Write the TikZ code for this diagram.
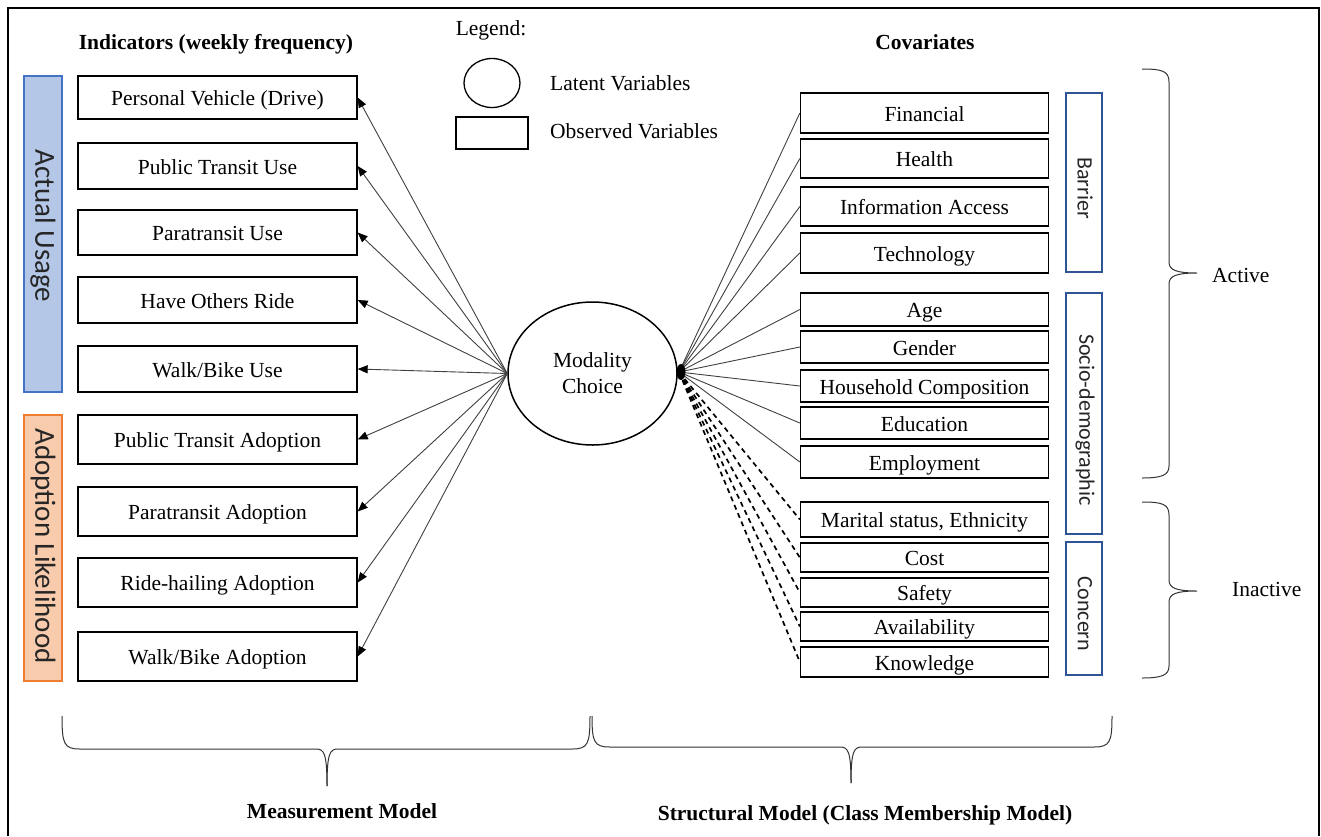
\documentclass[tikz,border=0pt]{standalone}
\usepackage{fontspec}
\setmainfont{Liberation Serif}
\newfontfamily\calfont{Carlito}
\usetikzlibrary{shapes.geometric,arrows.meta}
\definecolor{usefill}{HTML}{B4C7E7}
\definecolor{usedraw}{HTML}{4472C4}
\definecolor{adofill}{HTML}{F8CBAD}
\definecolor{adodraw}{HTML}{ED7D31}
\definecolor{catdraw}{HTML}{2F5597}
\definecolor{conn}{HTML}{404040}
\tikzset{
  txt/.style={font=\fontsize{21.5}{24}\selectfont, inner sep=0pt},
  hdr/.style={font=\fontsize{21.5}{24}\selectfont\bfseries, inner sep=0pt, text height=15pt, text depth=4pt},
  obs/.style={draw=black, line width=1.3pt, fill=white, minimum width=279pt, inner sep=0pt, text height=16pt, text depth=0pt, font=\fontsize{21.5}{24}\selectfont},
  cov/.style={draw=black, line width=1.3pt, fill=white, minimum width=248pt, inner sep=0pt, text height=16pt, text depth=0pt, font=\fontsize{21.5}{24}\selectfont},
  bar/.style={line width=1.2pt, minimum width=38pt, inner sep=0pt},
  bartext/.style={inner sep=0pt, font=\calfont\fontsize{29}{32}\selectfont, text=black!85, rotate=-90},
  cat/.style={draw=catdraw, line width=1.2pt, minimum width=36pt, inner sep=0pt},
  cattext/.style={inner sep=0pt, font=\calfont\fontsize{22}{24}\selectfont, text=black!85, rotate=-90},
  arr/.style={conn, line width=0.9pt, -{Triangle[length=10pt,width=8pt,color=black]}},
  lnk/.style={conn, line width=0.9pt},
  dsh/.style={black, line width=1.7pt, dash pattern=on 5pt off 4pt},
  brc/.style={black!80, line width=1pt},
}
\begin{document}
\begin{tikzpicture}[x=1pt,y=-1pt]
\useasboundingbox (0,0) rectangle (1321,836);
% frame
\draw[line width=1.5pt] (8,836) -- (8,8) -- (1319,8) -- (1319,836);

% headers
\node[hdr] (hind) at (216,44) {Indicators (weekly frequency)};
\node[hdr] (hcov) at (925,44) {Covariates};
\node[txt] (leg) at (491,30) {Legend:};
\node[draw, ellipse, line width=1.3pt, minimum width=56pt, minimum height=49pt, inner sep=0pt] (lell) at (492,83) {};
\node[draw, line width=1.3pt, minimum width=72pt, minimum height=32pt, inner sep=0pt] (lrect) at (492,133) {};
\node[txt, anchor=west] (llat) at (550,83) {Latent Variables};
\node[txt, anchor=west] (lobs) at (550,131) {Observed Variables};

% side bars
\node[bar, draw=usedraw, fill=usefill, minimum height=316pt] (usebar) at (43,234) {};
\node[bartext] (uset) at (43,226) {Actual Usage};
\node[bar, draw=adodraw, fill=adofill, minimum height=266pt] (adobar) at (43,548) {};
\node[bartext] (adot) at (43,546) {Adoption Likelihood};

% indicator boxes
\node[obs, minimum height=43pt] (pv)  at (217.5,97.5)  {Personal Vehicle (Drive)};
\node[obs, minimum height=46pt] (ptu) at (217.5,166)   {Public Transit Use};
\node[obs, minimum height=45pt] (pu)  at (217.5,232.5) {Paratransit Use};
\node[obs, minimum height=46pt] (hor) at (217.5,300)   {Have Others Ride};
\node[obs, minimum height=46pt] (wbu) at (217.5,369)   {Walk/Bike Use};
\node[obs, minimum height=49pt] (pta) at (217.5,439.5) {Public Transit Adoption};
\node[obs, minimum height=49pt] (pa)  at (217.5,511.5) {Paratransit Adoption};
\node[obs, minimum height=49pt] (rha) at (217.5,582.5) {Ride-hailing Adoption};
\node[obs, minimum height=49pt] (wba) at (217.5,656.5) {Walk/Bike Adoption};

% latent variable
\node[draw, ellipse, line width=1.5pt, minimum width=169pt, minimum height=143pt, inner sep=0pt, align=center, font=\fontsize{21.5}{26}\selectfont] (mc) at (592.5,373.5) {Modality\\Choice};

% covariate boxes
\node[cov, minimum height=40pt] (fin) at (924.5,113)   {Financial};
\node[cov, minimum height=39pt] (hea) at (924.5,158.5) {Health};
\node[cov, minimum height=39pt] (inf) at (924.5,206.5) {Information Access};
\node[cov, minimum height=40pt] (tec) at (924.5,253)   {Technology};
\node[cov, minimum height=33pt] (age) at (924.5,309.5) {Age};
\node[cov, minimum height=32pt] (gen) at (924.5,347)   {Gender};
\node[cov, minimum height=32pt] (hh)  at (924.5,386)   {Household Composition};
\node[cov, minimum height=32pt] (edu) at (924.5,423)   {Education};
\node[cov, minimum height=32pt] (emp) at (924.5,462)   {Employment};
\node[cov, minimum height=35pt] (mar) at (924.5,519.5) {Marital status, Ethnicity};
\node[cov, minimum height=29pt] (cost) at (924.5,557.5) {Cost};
\node[cov, minimum height=29pt] (saf) at (924.5,592.5) {Safety};
\node[cov, minimum height=29pt] (ava) at (924.5,626.5) {Availability};
\node[cov, minimum height=30pt] (kno) at (924.5,662)   {Knowledge};

% category boxes
\node[cat, minimum height=179pt] (barb) at (1084,182.5) {};
\node[cattext] (bart) at (1085,188) {Barrier};
\node[cat, minimum height=241pt] (socb) at (1084,413.5) {};
\node[cattext] (soct) at (1085,420) {Socio-demographic};
\node[cat, minimum height=133pt] (conb) at (1084,608.5) {};
\node[cattext] (cont) at (1085,614) {Concern};

% measurement arrows
\foreach \t in {pv,ptu,pu,hor,wbu,pta,pa,rha,wba}
  \draw[arr] (mc.west) -- (\t.east);

% structural links
\coordinate (mcr) at (679,372);
\foreach \t in {fin,hea,inf,tec,age,gen,hh,edu,emp}
  \draw[lnk] (mcr) -- (\t.west);
\foreach \t in {mar,cost,saf,ava,kno}
  \draw[dsh] (mcr) -- (\t.west);
\fill[black] (681,372) ellipse (4.5pt and 8pt);

% right braces
\draw[brc] (1142,69) .. controls (1162,69) and (1169,71) .. (1169,82) -- (1169,262)
  .. controls (1169,270) and (1176,273) .. (1197,273)
  .. controls (1176,273) and (1169,276) .. (1169,284) -- (1169,466)
  .. controls (1169,475) and (1162,478) .. (1142,478);
\draw[brc] (1142,502) .. controls (1162,502) and (1169,504) .. (1169,515) -- (1169,580)
  .. controls (1169,588) and (1176,591) .. (1197,591)
  .. controls (1176,591) and (1169,594) .. (1169,602) -- (1169,666)
  .. controls (1169,675) and (1162,678) .. (1142,678);
\node[txt, anchor=west] (act) at (1212,275) {Active};
\node[txt, anchor=west] (inact) at (1232,589) {Inactive};

% bottom braces
\draw[brc] (62,716) .. controls (62,744) and (64,749) .. (80,749) -- (316,749)
  .. controls (324,749) and (327,753) .. (327,786);
\draw[brc] (590,716) .. controls (590,744) and (588,749) .. (572,749) -- (338,749)
  .. controls (330,749) and (327,753) .. (327,786);
\draw[brc] (592,716) .. controls (592,742) and (594,747) .. (610,747) -- (840,747)
  .. controls (848,747) and (851,751) .. (851,783);
\draw[brc] (1112,716) .. controls (1112,742) and (1110,747) .. (1094,747) -- (862,747)
  .. controls (854,747) and (851,751) .. (851,783);
\node[hdr] (mm) at (342,813) {Measurement Model};
\node[hdr] (sm) at (865,815) {Structural Model (Class Membership Model)};
\end{tikzpicture}
\end{document}
